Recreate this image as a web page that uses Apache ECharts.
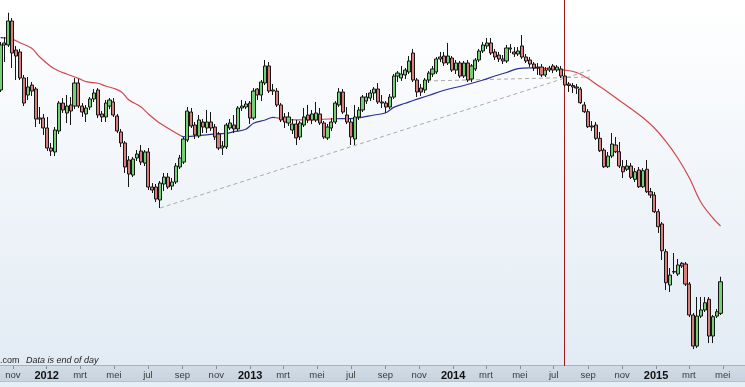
<!DOCTYPE html>
<html><head><meta charset="utf-8">
<script src="https://cdn.jsdelivr.net/npm/echarts@6/dist/echarts.min.js"></script>
<style>
html,body{margin:0;padding:0;}
#c{width:745px;height:387px;
background:linear-gradient(to bottom,#ffffff 0px,#e2ebf4 365px,#a3b2c2 365px,#a3b2c2 366px,#d2dce6 366px,#c7d3df 381px,#b4c2cf 381px,#b4c2cf 382px,#e6eef6 382px,#e6eef6 387px);}
</style></head><body><div id="c"></div>
<script>
// weekly candles, first week starting Monday 2011-10-10
const firstWeek = '2011-10-10';
// [open, close, low, high]
const ohlc = [
[1.3371,1.3881,1.3348,1.3915],[1.3881,1.3904,1.3688,1.3972],[1.3881,1.4153,1.3858,1.4247],[1.4153,1.3790,1.3620,1.4187],
[1.3824,1.3756,1.3484,1.3870],[1.3802,1.3507,1.3484,1.3836],[1.3507,1.3223,1.3189,1.3541],[1.3314,1.3405,1.3257,1.3518],
[1.3427,1.3359,1.3303,1.3461],[1.3382,1.3042,1.2951,1.3405],[1.3042,1.3053,1.2985,1.3178],[1.3053,1.2940,1.2861,1.3099],
[1.2940,1.2713,1.2679,1.3065],[1.2713,1.2679,1.2622,1.2770],[1.2668,1.2917,1.2622,1.2951],[1.2906,1.3223,1.2872,1.3246],
[1.3223,1.3144,1.3110,1.3280],[1.3110,1.3189,1.2997,1.3314],[1.3201,1.3133,1.2974,1.3291],[1.3189,1.3450,1.3155,1.3507],
[1.3450,1.3189,1.3167,1.3495],[1.3189,1.3121,1.3065,1.3223],[1.3099,1.3167,1.3008,1.3201],[1.3178,1.3269,1.3144,1.3291],
[1.3269,1.3337,1.3235,1.3382],[1.3371,1.3087,1.3053,1.3393],[1.3099,1.3065,1.3008,1.3133],[1.3065,1.3223,1.3008,1.3257],
[1.3189,1.3257,1.3155,1.3280],[1.3235,1.3087,1.3065,1.3280],[1.3076,1.2906,1.2883,1.3099],[1.2895,1.2770,1.2725,1.2929],
[1.2770,1.2498,1.2430,1.2792],[1.2577,1.2418,1.2271,1.2622],[1.2407,1.2588,1.2384,1.2611],[1.2600,1.2645,1.2566,1.2690],
[1.2679,1.2554,1.2520,1.2747],[1.2543,1.2668,1.2509,1.2690],[1.2668,1.2271,1.2237,1.2713],[1.2271,1.2237,1.2203,1.2316],
[1.2271,1.2135,1.2101,1.2305],[1.2124,1.2316,1.2033,1.2339],[1.2305,1.2384,1.2226,1.2430],[1.2384,1.2271,1.2248,1.2430],
[1.2282,1.2328,1.2237,1.2373],[1.2328,1.2509,1.2305,1.2543],[1.2498,1.2600,1.2475,1.2634],[1.2554,1.2815,1.2532,1.2838],
[1.2804,1.3133,1.2781,1.3178],[1.3121,1.2963,1.2940,1.3167],[1.2974,1.2861,1.2815,1.3008],[1.2849,1.3031,1.2827,1.3087],
[1.3008,1.2951,1.2883,1.3042],[1.2940,1.3008,1.2883,1.3144],[1.3008,1.2940,1.2906,1.3121],[1.2951,1.2838,1.2804,1.2985],
[1.2872,1.2713,1.2690,1.2895],[1.2713,1.2736,1.2634,1.2792],[1.2725,1.2974,1.2702,1.2997],[1.2940,1.2997,1.2917,1.3042],
[1.2974,1.2929,1.2883,1.3087],[1.2929,1.3167,1.2906,1.3189],[1.3167,1.3189,1.3133,1.3257],[1.3178,1.3212,1.3155,1.3246],
[1.3223,1.3053,1.2985,1.3246],[1.3053,1.3359,1.3031,1.3393],[1.3382,1.3314,1.3257,1.3393],[1.3314,1.3461,1.3246,1.3484],
[1.3450,1.3643,1.3427,1.3711],[1.3643,1.3359,1.3337,1.3688],[1.3359,1.3371,1.3314,1.3439],[1.3359,1.3201,1.3178,1.3393],
[1.3201,1.3031,1.3008,1.3223],[1.3065,1.3008,1.2940,1.3110],[1.2997,1.3065,1.2963,1.3121],[1.2917,1.2985,1.2872,1.3042],
[1.2985,1.2827,1.2747,1.3031],[1.2838,1.2997,1.2804,1.3019],[1.2974,1.3065,1.2951,1.3167],[1.3087,1.3031,1.2997,1.3201],
[1.3031,1.3099,1.2985,1.3144],[1.3031,1.3110,1.3008,1.3235],[1.3099,1.2997,1.2974,1.3167],[1.2997,1.2838,1.2815,1.3019],
[1.2827,1.2951,1.2804,1.2985],[1.2940,1.3008,1.2906,1.3053],[1.3008,1.3223,1.2985,1.3246],[1.3201,1.3348,1.3178,1.3393],
[1.3348,1.3121,1.3099,1.3382],[1.3087,1.3008,1.2985,1.3178],[1.3008,1.2838,1.2747,1.3042],[1.2815,1.3065,1.2747,1.3201],
[1.3065,1.3144,1.3031,1.3178],[1.3144,1.3291,1.3121,1.3314],[1.3246,1.3291,1.3212,1.3337],[1.3280,1.3337,1.3246,1.3371],
[1.3337,1.3382,1.3257,1.3405],[1.3382,1.3235,1.3212,1.3450],[1.3235,1.3223,1.3167,1.3314],[1.3223,1.3178,1.3110,1.3246],
[1.3178,1.3291,1.3155,1.3325],[1.3291,1.3529,1.3269,1.3552],[1.3529,1.3563,1.3461,1.3586],[1.3507,1.3552,1.3473,1.3643],
[1.3541,1.3597,1.3495,1.3620],[1.3575,1.3700,1.3552,1.3756],[1.3790,1.3484,1.3461,1.3836],[1.3484,1.3348,1.3291,1.3507],
[1.3393,1.3348,1.3303,1.3439],[1.3371,1.3484,1.3337,1.3507],[1.3484,1.3563,1.3450,1.3586],[1.3552,1.3609,1.3518,1.3643],
[1.3575,1.3722,1.3552,1.3745],[1.3722,1.3745,1.3688,1.3802],[1.3756,1.3677,1.3643,1.3802],[1.3677,1.3756,1.3654,1.3904],
[1.3733,1.3597,1.3575,1.3756],[1.3597,1.3677,1.3552,1.3711],[1.3677,1.3529,1.3507,1.3700],[1.3529,1.3677,1.3507,1.3700],
[1.3677,1.3484,1.3461,1.3711],[1.3495,1.3643,1.3461,1.3665],[1.3609,1.3711,1.3586,1.3733],[1.3711,1.3813,1.3688,1.3836],
[1.3813,1.3881,1.3790,1.3915],[1.3870,1.3904,1.3836,1.3960],[1.3904,1.3790,1.3767,1.3960],[1.3802,1.3745,1.3711,1.3836],
[1.3767,1.3722,1.3688,1.3802],[1.3722,1.3700,1.3665,1.3767],[1.3700,1.3847,1.3677,1.3881],[1.3836,1.3847,1.3790,1.3892],
[1.3802,1.3779,1.3745,1.3858],[1.3779,1.3813,1.3756,1.3858],[1.3870,1.3745,1.3722,1.3994],[1.3745,1.3700,1.3677,1.3779],
[1.3711,1.3665,1.3631,1.3745],[1.3665,1.3620,1.3586,1.3688],[1.3631,1.3620,1.3541,1.3677],[1.3631,1.3541,1.3518,1.3665],
[1.3541,1.3597,1.3518,1.3631],[1.3597,1.3620,1.3575,1.3643],[1.3643,1.3597,1.3563,1.3665],[1.3597,1.3631,1.3575,1.3654],
[1.3609,1.3529,1.3507,1.3643],[1.3529,1.3427,1.3405,1.3563],[1.3439,1.3422,1.3348,1.3461],[1.3422,1.3405,1.3337,1.3450],
[1.3405,1.3393,1.3325,1.3439],[1.3382,1.3227,1.3212,1.3405],[1.3201,1.3125,1.3110,1.3235],[1.3125,1.2955,1.2940,1.3155],
[1.2963,1.2951,1.2906,1.3019],[1.2974,1.2823,1.2804,1.3008],[1.2823,1.2682,1.2668,1.2895],[1.2690,1.2501,1.2486,1.2713],
[1.2501,1.2622,1.2486,1.2668],[1.2622,1.2758,1.2600,1.2883],[1.2747,1.2671,1.2656,1.2838],[1.2671,1.2509,1.2486,1.2781],
[1.2501,1.2444,1.2373,1.2577],[1.2472,1.2509,1.2452,1.2577],[1.2509,1.2381,1.2362,1.2543],[1.2358,1.2444,1.2328,1.2486],
[1.2464,1.2274,1.2260,1.2498],[1.2274,1.2456,1.2260,1.2486],[1.2472,1.2218,1.2203,1.2577],[1.2218,1.2180,1.2146,1.2260],
[1.2180,1.1991,1.1976,1.2214],[1.1991,1.1821,1.1750,1.2022],[1.1852,1.1549,1.1443,1.1874],[1.1537,1.1186,1.1103,1.1568],
[1.1160,1.1273,1.1081,1.1353],[1.1307,1.1313,1.1285,1.1523],[1.1285,1.1387,1.1262,1.1455],[1.1406,1.1375,1.1353,1.1421],
[1.1398,1.1171,1.1149,1.1421],[1.1171,1.0820,1.0797,1.1194],[1.0820,1.0468,1.0434,1.0843],[1.0468,1.0808,1.0446,1.1024],
[1.0808,1.0877,1.0786,1.1024],[1.0877,1.0959,1.0854,1.1024],[1.0998,1.0582,1.0502,1.1024],[1.0582,1.0801,1.0502,1.0820],
[1.0808,1.0857,1.0786,1.0888],[1.0839,1.1197,1.0820,1.1254]
];
// moving average, read at selected candles (candle index, value)
const maIndex = [0,3,5,8,10,13,15,17,20,22,25,27,29,31,33,36,38,41,46,47,54,58,60,63,65,68,70,73,76,81,83,86,91,96,99,101,104,106,110,114,119,124,127,130,133,136,139,142,145,148,151,153,156,159,162,165,168,171,174,177,180,183,185];
const maValue = [1.3964,1.3945,1.3907,1.3843,1.3748,1.3635,1.3586,1.3552,1.3503,1.3465,1.3447,1.3416,1.3390,1.3351,1.3257,1.3181,1.3099,1.2993,1.2860,1.2841,1.2868,1.2880,1.2898,1.2925,1.2993,1.3031,1.3061,1.3039,1.3031,1.3031,1.3039,1.3045,1.3050,1.3087,1.3113,1.3174,1.3220,1.3252,1.3308,1.3368,1.3422,1.3484,1.3529,1.3569,1.3614,1.3622,1.3617,1.3609,1.3597,1.3569,1.3501,1.3439,1.3348,1.3252,1.3158,1.3059,1.2940,1.2785,1.2600,1.2373,1.2095,1.1920,1.1829];
// MA colour: 'above' = MA under price (blue), 'below' = MA over price (red); [first candle index, state]
const maColourChanges = [[0,'above'],[1,'below'],[47,'above'],[71,'below'],[86,'above'],[138,'below']];
const trendLine = [['2012-07-23',1.2033],['2014-09-04',1.3597]];
const levelLine = [['2013-11-15',1.3473],['2014-09-04',1.3518]];
const markerDate = '2014-07-20';
const tickDates = ['2011-11-01','2012-01-01','2012-03-01','2012-05-01','2012-07-01','2012-09-01','2012-11-01','2013-01-01','2013-03-01','2013-05-01','2013-07-01','2013-09-01','2013-11-01','2014-01-01','2014-03-01','2014-05-01','2014-07-01','2014-09-01','2014-11-01','2015-01-01','2015-03-01','2015-05-01'];
const tickLabels = ['nov','2012','mrt','mei','jul','sep','nov','2013','mrt','mei','jul','sep','nov','2014','mrt','mei','jul','sep','nov','2015','mrt','mei'];
const xRange = ['2011-10-09','2015-06-10'];
const yRange = [1.0242, 1.4391];

const ts = d => Date.parse(d + 'T00:00:00Z');
const DAY = 864e5;
const weekTs = ohlc.map((_, i) => ts(firstWeek) + i * 7 * DAY);
const candleData = ohlc.map((r, i) => [weekTs[i], r[0], r[1], r[2], r[3]]);
const maData = maIndex.map((k, j) => [weekTs[k], maValue[j]]);
const tickTs = tickDates.map(ts);
const colourOf = {above: '#2c3190', below: '#d2474b'};
const pieces = maColourChanges.map((c, k) => {
  const p = {color: colourOf[c[1]]};
  p.gte = k === 0 ? ts(xRange[0]) - 400 * DAY : weekTs[c[0]] - 3.5 * DAY;
  if (k < maColourChanges.length - 1) p.lt = weekTs[maColourChanges[k + 1][0]] - 3.5 * DAY;
  return p;
});
const FONT = '"Liberation Sans", Arial, sans-serif';

const chart = echarts.init(document.getElementById('c'), null, {renderer: 'canvas'});
chart.setOption({
  animation: false,
  backgroundColor: 'transparent',
  grid: {left: 0, right: 0, top: 0, bottom: 21},
  xAxis: {
    type: 'value', min: ts(xRange[0]), max: ts(xRange[1]), scale: true,
    axisLine: {show: false},
    splitLine: {show: false},
    axisTick: {show: true, customValues: tickTs, length: 3, lineStyle: {color: '#7e8fa1', width: 1}},
    axisLabel: {
      customValues: tickTs, margin: 4, fontFamily: FONT,
      formatter: function (v) {
        let k = -1;
        for (let i = 0; i < tickTs.length; i++) if (Math.abs(tickTs[i] - v) < DAY) k = i;
        if (k < 0) return '';
        const s = tickLabels[k];
        return /^\d{4}$/.test(s) ? '{y|' + s + '}' : '{m|' + s + '}';
      },
      rich: {
        m: {fontSize: 9.5, color: '#3a3a3a', fontFamily: FONT},
        y: {fontSize: 11, fontWeight: 'bold', color: '#111', fontFamily: FONT}
      }
    }
  },
  yAxis: {type: 'value', min: yRange[0], max: yRange[1], show: false, splitLine: {show: false}},
  visualMap: {show: false, type: 'piecewise', seriesIndex: 1, dimension: 0, pieces: pieces},
  series: [
    {
      type: 'candlestick', data: candleData, encode: {x: 0, y: [1, 2, 3, 4]},
      barWidth: 3.6, z: 5,
      itemStyle: {color: '#74d074', color0: '#d97d7d', borderColor: '#151515', borderColor0: '#151515', borderColorDoji: '#151515', borderWidth: 1},
      markLine: {
        silent: true, symbol: ['none', 'none'], label: {show: false},
        lineStyle: {color: '#9c1c1c', width: 1, type: 'solid'},
        data: [{xAxis: ts(markerDate)}]
      }
    },
    {type: 'line', data: maData, smooth: 0.35, symbol: 'none', lineStyle: {width: 1.2}, z: 4},
    {type: 'line', data: trendLine.map(p => [ts(p[0]), p[1]]), symbol: 'none', z: 3,
      lineStyle: {color: '#a9a9a9', width: 1, type: [4, 3]}},
    {type: 'line', data: levelLine.map(p => [ts(p[0]), p[1]]), symbol: 'none', z: 3,
      lineStyle: {color: '#a9a9a9', width: 1, type: [4, 3]}}
  ],
  graphic: [
    {type: 'text', x: 0, y: 365, style: {text: '.com', fontSize: 9, fontFamily: FONT, fill: '#222', verticalAlign: 'bottom'}},
    {type: 'text', x: 26, y: 365, style: {text: 'Data is end of day', fontSize: 9, fontStyle: 'italic', fontFamily: FONT, fill: '#222', verticalAlign: 'bottom'}}
  ]
});
</script>
</body></html>
